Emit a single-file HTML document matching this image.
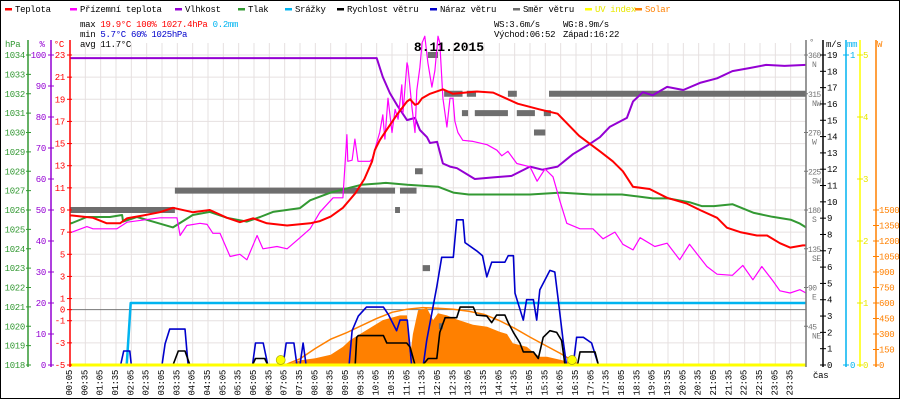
<!DOCTYPE html>
<html><head><meta charset="utf-8">
<style>
html,body{margin:0;padding:0;background:#fff;}
svg{display:block;font-family:"Liberation Mono",monospace;}
</style></head>
<body>
<svg id="chart" width="900" height="400" viewBox="0 0 900 400" xmlns="http://www.w3.org/2000/svg">
<rect x="0.5" y="0.5" width="899" height="398" fill="#fff" stroke="#000"/>
<g id="grid"></g>
<g id="marks"></g>
<g id="axes"></g>
<g id="legend" font-size="9" letter-spacing="-0.3"></g>
<g font-size="9" letter-spacing="-0.3">
<text x="80" y="27"><tspan fill="#000">max </tspan><tspan fill="#f00">19.9°C 100%  1027.4hPa</tspan><tspan fill="#00b4f0">   0.2mm</tspan></text>
<text x="80" y="37"><tspan fill="#000">min  </tspan><tspan fill="#0000cc">5.7°C  60%  1025hPa</tspan></text>
<text x="80" y="47" fill="#000">avg 11.7°C</text>
<text x="494" y="27" fill="#000">WS:3.6m/s</text>
<text x="563" y="27" fill="#000">WG:8.9m/s</text>
<text x="494" y="37" fill="#000">Východ:06:52</text>
<text x="563" y="37" fill="#000">Západ:16:22</text>
</g>
<text x="449" y="51" text-anchor="middle" font-size="13" font-weight="bold" fill="#000">8.11.2015</text>
</svg>
<script>
// ---- data ----
const tempT=[0,0.07,0.75,1.2,1.63,1.86,2.38,2.93,3.36,4.0,4.56,5.12,5.54,5.97,6.42,7.08,7.83,8.15,8.5,8.9,9.3,9.6,9.85,9.94,10.1,10.34,10.66,10.99,11.09,11.25,11.35,11.48,11.74,12.16,12.49,13.27,13.8,14.6,15.3,15.9,16.6,17.28,17.7,18.03,18.36,18.9,19.47,20.1,20.54,21.1,21.42,21.85,22.4,22.73,23.15,23.48,23.9,24];
const tempV=[8.5,8.5,8.3,7.8,7.8,8.25,8.5,8.8,9.2,8.8,9.0,8.3,7.9,8.25,7.8,7.6,7.8,8.0,8.4,9.2,10.5,11.8,13.4,14.4,15.3,16.3,17.6,18.8,19.0,18.5,18.6,19.1,19.5,19.9,19.5,19.7,19.6,18.6,18.1,17.7,15.7,14.3,13.4,12.5,11.1,10.9,10.1,9.6,9.0,8.3,7.4,7.0,6.7,6.7,6.0,5.6,5.8,5.8];
const feelT=[0,0.07,0.55,0.75,1.53,1.86,2.93,3.49,3.59,3.81,4.24,4.47,4.66,4.89,5.22,5.54,5.77,6.1,6.29,6.75,7.08,7.5,7.83,8.15,8.58,8.9,9.03,9.06,9.2,9.29,9.39,9.55,9.78,9.85,10.1,10.2,10.27,10.37,10.5,10.6,10.7,10.82,10.86,10.99,11.02,11.15,11.25,11.31,11.41,11.48,11.57,11.67,11.8,11.9,12.0,12.06,12.16,12.29,12.39,12.49,12.55,12.65,12.81,13.14,13.6,13.92,14.08,14.28,14.57,15.0,15.23,15.49,15.75,15.98,16.2,16.63,17.05,17.38,17.77,18.03,18.36,18.59,19.07,19.47,19.88,20.2,20.77,21.1,21.6,21.94,22.27,22.56,22.92,23.15,23.48,23.8,24];
const feelV=[7.0,7.0,7.5,7.3,7.3,7.9,8.3,8.3,6.7,7.6,7.8,7.7,6.9,6.9,4.8,5.0,4.5,6.7,5.5,5.7,5.5,6.5,7.3,8.8,10.1,10.1,15.8,13.4,13.5,15.4,13.4,13.4,13.4,13.6,16.0,17.6,15.4,19.1,16.0,18.1,17.2,20.3,17.8,22.3,22.0,18.3,16.0,19.8,21.9,24.1,24.7,22.3,20.1,21.6,24.7,24.1,19.1,16.5,19.1,19.1,17.0,16.0,15.3,15.2,14.9,14.4,13.9,14.3,13.2,12.9,11.6,12.7,12.0,9.75,7.8,7.3,7.3,6.4,7.0,5.9,5.4,6.5,5.7,6.0,4.5,5.9,3.9,3.2,3.1,4.0,2.7,3.9,2.6,1.7,1.5,1.8,1.5];
const humT=[0,10.0,10.2,10.43,10.66,10.99,11.25,11.41,11.64,11.74,11.97,12.16,12.39,12.62,13.2,13.8,14.4,15.0,15.4,15.9,16.4,16.9,17.28,17.6,18.16,18.36,18.68,19.0,19.47,20.0,20.54,21.1,21.6,22.17,22.7,23.3,24];
const humV=[99,99,92.9,87.7,83.9,79,79.7,75.8,73.5,71.6,72,65,64,63.5,60,60.5,61,64,63,64,68,71,73.5,76.8,79.7,85,88,87,89.7,88.7,91,92.5,94.8,95.8,96.8,96.5,96.8];
const presT=[0,0.07,0.55,1.3,1.7,1.73,2.18,2.7,3.36,4.0,4.56,5.12,5.77,6.2,6.62,7.5,7.83,8.5,9.0,9.5,10.3,11.0,12.0,12.5,13.0,14.0,15.0,16.0,17.0,17.3,18.0,18.5,19.0,19.5,20.2,20.6,21.0,21.6,22.3,22.9,23.5,23.8,24];
const presV=[1025.3,1025.33,1025.64,1025.64,1025.74,1025.4,1025.64,1025.4,1025.1,1025.74,1025.9,1025.6,1025.4,1025.64,1025.9,1026.1,1026.5,1026.9,1027.1,1027.3,1027.4,1027.3,1027.2,1026.9,1026.8,1026.8,1026.8,1026.9,1026.8,1026.8,1026.8,1026.7,1026.6,1026.6,1026.4,1026.2,1026.2,1026.3,1025.85,1025.65,1025.5,1025.3,1025.1];
const rainT=[0,1.85,1.88,1.98,24];
const rainV=[0,0,0.05,0.2,0.2];
const speedT=[0,3.36,3.53,3.75,3.91,5.95,6.05,6.35,6.45,9.3,9.35,9.4,10.22,10.33,10.98,11.09,11.25,11.5,11.68,11.96,12.06,12.23,12.61,12.72,13.15,13.26,13.59,13.75,13.91,14.18,14.29,14.46,14.67,14.78,15.11,15.27,15.43,15.65,15.87,16.03,16.14,16.55,16.63,17.12,17.23,24];
const speedV=[0,0,0.86,0.86,0,0,0.4,0.4,0,0,1.7,1.8,1.8,1.35,1.35,1.1,0,0,0.4,0.4,2.0,2.9,2.9,3.55,3.55,3.06,3.0,2.6,3.06,3.06,2.6,2.0,1.35,0.8,0.8,0.4,1.7,2.1,2.0,1.5,0,0,0.8,0.8,0,0];
const gustT=[0,1.65,1.75,1.95,2.0,3.0,3.1,3.25,3.75,3.85,5.95,6.05,6.3,6.45,6.95,7.05,7.3,7.4,7.5,7.6,7.7,9.1,9.2,9.4,9.67,10.22,10.38,10.65,10.76,11.0,11.14,11.52,11.63,11.96,12.12,12.5,12.61,12.82,12.88,13.26,13.45,13.59,13.75,14.18,14.29,14.46,14.51,14.78,14.89,15.11,15.22,15.32,15.65,15.81,15.92,16.08,16.19,16.41,16.52,16.74,17.01,17.23,24];
const gustV=[0,0,0.86,0.86,0,0,1.3,2.2,2.2,0,0,1.35,1.35,0,0,1.35,1.35,0,0,1.35,0,0,2.1,3.0,3.55,3.55,3.1,2.1,2.75,2.75,0,0,1.5,4.8,6.6,6.6,8.9,8.9,7.5,7.0,6.7,5.4,6.3,6.3,6.7,6.7,4.4,2.75,4.0,4.0,2.75,4.6,5.8,5.7,4.0,1.5,0,0,1.7,1.7,1.35,0,0];
const dirStart=[0,3.42,10.6,10.76,11.25,11.5,11.67,12.03,12.2,12.78,12.94,13.2,14.28,14.57,15.13,15.45,15.62];
const dirEnd=[3.42,10.6,10.76,11.3,11.5,11.74,12.0,12.16,12.8,12.98,13.24,14.28,14.57,15.16,15.5,15.68,24];
const dirDeg=[180,202.5,180,202.5,225,112.5,360,45,315,292.5,315,292.5,315,292.5,270,292.5,315];
const solarT=[6.9,7.2,7.5,8,8.5,8.9,9.13,9.68,10.2,10.76,10.99,11.09,11.18,11.35,11.64,11.84,12.0,12.29,12.62,13.14,13.6,14.02,14.25,14.44,14.9,15.1,15.32,15.55,15.98,16.4,16.53];
const solarV=[0,15,45,65,100,175,240,340,435,480,480,80,300,530,550,435,500,480,440,390,370,320,300,210,175,125,80,80,50,20,0];
const solarMaxT=[7.0,7.5,8,8.5,9,9.5,10,10.5,11,11.5,12,12.5,13,13.5,14,14.5,15,15.5,16,16.5,16.6];
const solarMaxV=[0,60,160,250,310,380,450,510,540,555,550,540,520,490,430,355,270,190,110,20,0];
const sunEvents=[6.87,16.37];
const timeLabels=[];for(let h=0;h<24;h++){const hh=(h<10?'0':'')+h;timeLabels.push(hh+':05',hh+':35');}
const hpaTicks=[1018,1019,1020,1021,1022,1023,1024,1025,1026,1027,1028,1029,1030,1031,1032,1033,1034];
const humTicks=[0,10,20,30,40,50,60,70,80,90,100];
const tempTicks=[-5,-3,-1,0,1,3,5,7,9,11,13,15,17,19,21,23];
const dirTicks=[45,90,135,180,225,270,315,360];
const dirNames=['NE','E','SE','S','SW','W','NW','N'];
const msTicks=[0,1,2,3,4,5,6,7,8,9,10,11,12,13,14,15,16,17,18,19];
const mmTicks=[0,1];
const uvTicks=[0,1,2,3,4,5];
const wTicks=[0,150,300,450,600,750,900,1050,1200,1350,1500];

// ---- scales ----
const X0=70,X1=806,YT=55,YB=365;
const xS=t=>X0+t*(X1-X0)/24;
const yTemp=v=>YB-(v+5)*(YB-YT)/28;
const yHum=v=>YB-v*(YB-YT)/100;
const yPres=v=>YB-(v-1018)*(YB-YT)/16;
const yMs=v=>YB-v*(YB-YT)/19;
const yDir=v=>YB-v*(YB-YT)/360;
const yMm=v=>YB-v*(YB-YT);
const yUv=v=>YB-v*(YB-YT)/5;
const yW=v=>YB-v*(155/1500);

const NS='http://www.w3.org/2000/svg';
function mk(tag,parent,attrs){const e=document.createElementNS(NS,tag);for(const k in attrs)e.setAttribute(k,attrs[k]);parent.appendChild(e);return e;}
const grid=document.getElementById('grid'),marks=document.getElementById('marks'),axes=document.getElementById('axes'),legend=document.getElementById('legend');

for(let i=1;i<48;i++){const x=X0+i*(X1-X0)/48;const l=mk('line',grid,{x1:x,x2:x,y1:YT-12,y2:YB,stroke:'#e6e0e0','stroke-width':1});

}
tempTicks.forEach(v=>{if(v===0)return;const y=yTemp(v);const l=mk('line',grid,{x1:X0,x2:X1,y1:y,y2:y,stroke:'#e6e0e0','stroke-width':1});

});
const zl=mk('line',grid,{x1:X0,x2:X1,y1:yTemp(0),y2:yTemp(0),stroke:'#777','stroke-width':1});



function pts(T,V,ys){return T.map((t,i)=>xS(t).toFixed(1)+','+ys(V[i]).toFixed(1)).join(' ');}
const sp=mk('polygon',marks,{points:xS(solarT[0])+','+YB+' '+pts(solarT,solarV,yW)+' '+xS(solarT[solarT.length-1])+','+YB,fill:'#ff8000',stroke:'none'});


const smx=mk('polyline',marks,{points:pts(solarMaxT,solarMaxV,yW),fill:'none',stroke:'#ff8000','stroke-width':1.5});


dirDeg.forEach((d,i)=>{const r=mk('rect',marks,{x:xS(dirStart[i]),y:yDir(d)-3,width:Math.max(2,xS(dirEnd[i])-xS(dirStart[i])),height:6,fill:'#6e6e6e'});

});
function line(T,V,ys,color,w,name){const p=mk('polyline',marks,{points:pts(T,V,ys),fill:'none',stroke:color,'stroke-width':w,'stroke-linejoin':'round'});

}
line(presT,presV,yPres,'#339933',2,'pressure-line');
line(humT,humV,yHum,'#9400d3',2,'humidity-line');
line(feelT,feelV,yTemp,'#ff00ff',1.2,'feels-like-line');
line(tempT,tempV,yTemp,'#ff0000',2,'temperature-line');
line(rainT,rainV,yMm,'#00b4f0',2.5,'rain-line');
line(gustT,gustV,yMs,'#0000cc',1.6,'wind-gust-line');
line(speedT,speedV,yMs,'#000000',1.6,'wind-speed-line');
const uvl=mk('line',marks,{x1:X0,x2:X1,y1:YB,y2:YB,stroke:'#ffff00','stroke-width':3});


sunEvents.forEach(t=>{const c=mk('circle',marks,{cx:xS(t),cy:YB-5,r:4.5,fill:'#ffff00',stroke:'#aa0',"stroke-width":0.7});

});

function vaxis(x,y0,y1,color,name){const l=mk('line',axes,{x1:x,x2:x,y1:y0,y2:y1,stroke:color,'stroke-width':1.5});

}
function tickLabel(x,y,txt,color,anchor,name,fs,ls){const t=mk('text',axes,{x:x,y:y,fill:color,'font-size':fs||9,'text-anchor':anchor,'letter-spacing':ls||'-0.3'});t.textContent=txt;

return t;}
function tick(x,y,color,l,r){mk('line',axes,{x1:x-l,x2:x+r,y1:y,y2:y,stroke:color,'stroke-width':1});}
vaxis(28,40,YB+2,'#339933','pressure-axis');
hpaTicks.forEach(v=>{tick(28,yPres(v),'#339933',2,3);tickLabel(25,yPres(v)+3,String(v),'#339933','end','pressure-tick-label');});
tickLabel(5,47,'hPa','#339933','start','pressure-axis-title');
vaxis(51,40,YB+2,'#9400d3','humidity-axis');
humTicks.forEach(v=>{tick(51,yHum(v),'#9400d3',3,3);tickLabel(46,yHum(v)+3,String(v),'#9400d3','end','humidity-tick-label');});
tickLabel(42,47,'%','#9400d3','middle','humidity-axis-title');
vaxis(70,40,YB+2,'#ff0000','temperature-axis');
tempTicks.forEach(v=>{tick(70,yTemp(v),'#ff0000',3,2);tickLabel(65,yTemp(v)+3,String(v),'#ff0000','end','temperature-tick-label');});
tickLabel(64,47,'°C','#ff0000','end','temperature-axis-title');
vaxis(806,40,YB+2,'#777','direction-axis');
dirTicks.forEach((v,i)=>{tick(806,yDir(v),'#777',2,2);tickLabel(808,yDir(v)+3,String(v),'#777','start','direction-tick-label',8,'-0.6');tickLabel(812,yDir(v)+12,dirNames[i],'#777','start','direction-name-label',8,'-0.4');});
tickLabel(809,45,'°','#777','start','direction-axis-title');
vaxis(823,40,YB+2,'#000','wind-speed-axis');
msTicks.forEach(v=>{tick(823,yMs(v),'#000',3,3);tickLabel(827,yMs(v)+3,String(v),'#000','start','wind-speed-tick-label');});
tickLabel(826,47,'m/s','#000','start','wind-speed-axis-title');
vaxis(846,40,YB+2,'#00b4f0','rain-axis');
mmTicks.forEach(v=>{tick(846,yMm(v),'#00b4f0',3,3);tickLabel(850,yMm(v)+3,String(v),'#00b4f0','start','rain-tick-label');});
tickLabel(847,47,'mm','#00b4f0','start','rain-axis-title');
vaxis(860,40,YB+2,'#ffff00','uv-axis');
uvTicks.forEach(v=>{tick(860,yUv(v),'#e8e800',3,3);tickLabel(863,yUv(v)+3,String(v),'#e8e800','start','uv-tick-label');});
vaxis(876,40,YB+2,'#ff8000','solar-axis');
wTicks.forEach(v=>{tick(876,yW(v),'#ff8000',3,3);tickLabel(879,yW(v)+3,String(v),'#ff8000','start','solar-tick-label');});
tickLabel(877,47,'W','#ff8000','start','solar-axis-title');
timeLabels.forEach((s,i)=>{const x=69+i*(X1-X0)/48;
const t=mk('text',axes,{x:0,y:0,fill:'#000','font-size':9,'text-anchor':'end','letter-spacing':'-0.3',transform:'translate('+(x+3)+',370) rotate(-90)'});t.textContent=s;

});
tickLabel(813,378,'čas','#000','start','time-axis-title');

const legItems=[['Teplota','#ff0000',5],['Přízemní teplota','#ff00ff',70],['Vlhkost','#9400d3',175],['Tlak','#339933',238],['Srážky','#00b4f0',285],['Rychlost větru','#000000',337],['Náraz větru','#0000cc',430],['Směr větru','#6e6e6e',513],['UV index','#ffff00',585],['Solar','#ff8000',635]];
legItems.forEach(it=>{const g=mk('g',legend,{});


mk('rect',g,{x:it[2],y:8,width:7,height:2.5,fill:it[1]});
const t=mk('text',g,{x:it[2]+10,y:12,fill:(it[0]==='UV index'?'#e8e800':(it[0]==='Solar'?'#ff8000':'#000'))});t.textContent=it[0];});
</script>
</body></html>
